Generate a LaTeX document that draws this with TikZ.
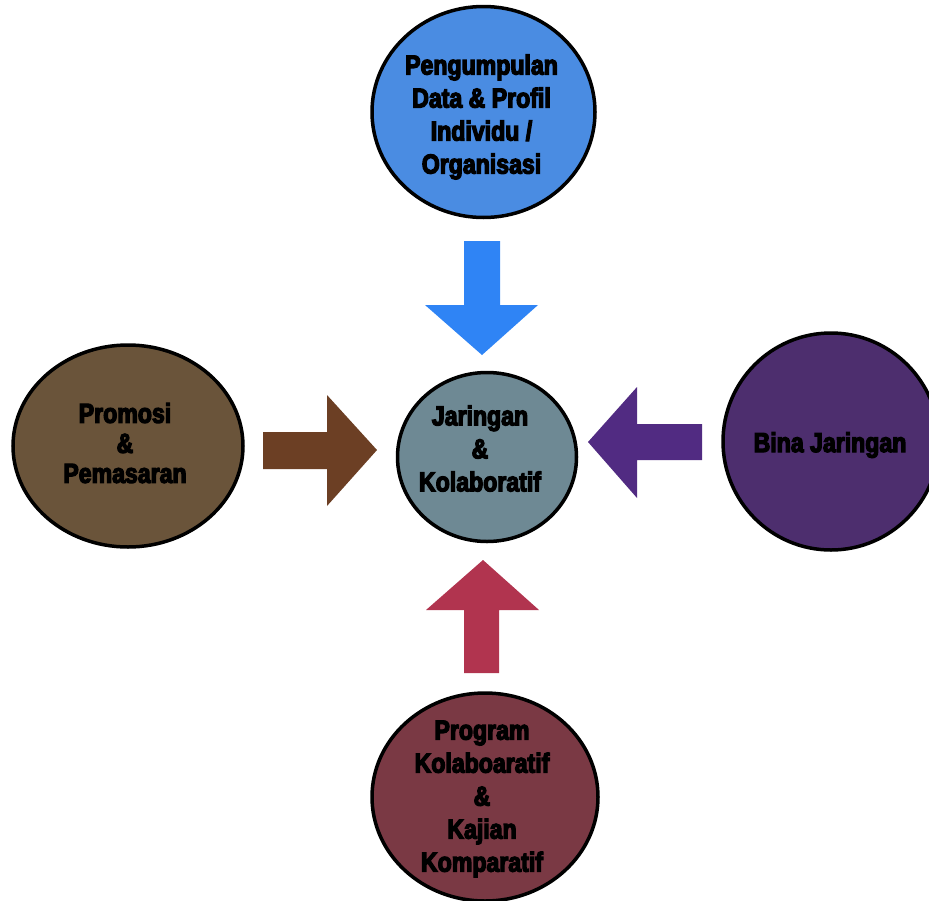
\documentclass[tikz,border=0pt]{standalone}
\usepackage{fontspec}
\setmainfont{Liberation Sans}
\newfontfamily\labelfont[FakeStretch=0.84,FakeBold=4.5]{Liberation Sans Bold}
\usetikzlibrary{shapes.geometric}

\definecolor{topfill}{RGB}{74,140,226}
\definecolor{toparrow}{RGB}{47,132,245}
\definecolor{hubfill}{RGB}{110,137,148}
\definecolor{leftfill}{RGB}{106,84,58}
\definecolor{leftarrow}{RGB}{108,63,36}
\definecolor{rightfill}{RGB}{77,46,110}
\definecolor{rightarrow}{RGB}{81,43,130}
\definecolor{bottomfill}{RGB}{122,57,68}
\definecolor{bottomarrow}{RGB}{177,52,79}

\tikzset{
  bubble/.style={ellipse, draw=black, line width=3.5pt, inner sep=0pt},
  bubbletext/.style={font=\labelfont\fontsize{27.5}{33}\selectfont, align=center, inner sep=0pt, text=black}
}

\begin{document}
\begin{tikzpicture}[x=1pt,y=-1pt]
  \useasboundingbox (0,0) rectangle (929,900);
  \begin{scope}
    \clip (0,0) rectangle (929,900);

    % circles
    \node[bubble, fill=topfill, minimum width=223pt, minimum height=211pt] (top) at (483.5,112) {};
    \node[bubble, fill=hubfill, minimum width=179pt, minimum height=169pt] (hub) at (487,457) {};
    \node[bubble, fill=leftfill, minimum width=230pt, minimum height=202pt] (left) at (128,446) {};
    \node[bubble, fill=rightfill, minimum width=216pt, minimum height=217pt] (right) at (831,441.5) {};
    \node[bubble, fill=bottomfill, minimum width=226pt, minimum height=208pt] (bottom) at (485,797) {};

    % labels
    \node[bubbletext] (toptext) at (481.5,117) {Pengumpulan\\Data \& Profil\\Individu /\\Organisasi};
    \node[bubbletext] (hubtext) at (480,448.5) {Jaringan\\\&\\Kolaboratif};
    \node[bubbletext, font=\labelfont\fontsize{27.5}{30}\selectfont] (lefttext) at (125,443) {Promosi\\\&\\Pemasaran};
    \node[bubbletext] (righttext) at (830,445) {Bina Jaringan};
    \node[bubbletext] (bottomtext) at (482,799) {Program\\Kolaboaratif\\\&\\Kajian\\Komparatif};

    % block arrows pointing at the hub
    \fill[toparrow] (464,241) -- (500,241) -- (500,305) -- (538,305) -- (482,355)
      -- (425,305) -- (464,305) -- cycle;
    \fill[bottomarrow] (464,673) -- (499,673) -- (499,610) -- (539,610) -- (483,560)
      -- (426,610) -- (464,610) -- cycle;
    \fill[leftarrow] (263,432) -- (327,432) -- (327,395) -- (377,450) -- (327,506)
      -- (327,469) -- (263,469) -- cycle;
    \fill[rightarrow] (702,424) -- (637,424) -- (637,387) -- (588,442) -- (637,498)
      -- (637,460) -- (702,460) -- cycle;
  \end{scope}
\end{tikzpicture}
\end{document}
